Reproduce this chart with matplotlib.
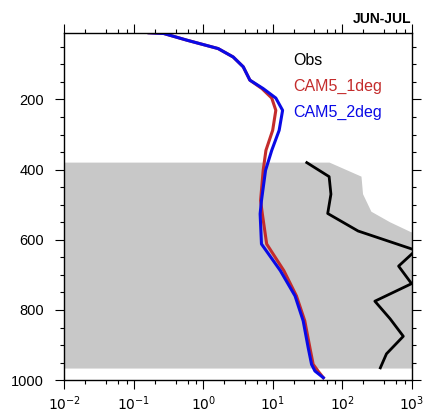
import numpy as np
import matplotlib.pyplot as plt
from matplotlib.ticker import FixedLocator, MultipleLocator, FixedFormatter

plt.rcParams['font.family'] = ['Liberation Sans', 'DejaVu Sans']

# model profiles (pressure hPa, values)
p_mod = [10, 12, 31, 55, 79, 107, 145, 169, 196, 231, 288, 345, 402, 488, 526,
         612, 688, 760, 831, 908, 955, 974, 993]
cam5_1deg = [0.166, 0.27, 0.58, 1.64, 2.7, 3.77, 4.7, 7.0, 9.7, 11.1, 10.0, 8.0,
             7.3, 6.7, 7.1, 8.2, 14.5, 22, 29, 34.4, 38.3, 45, 53.6]
cam5_2deg = [0.166, 0.27, 0.58, 1.64, 2.7, 3.77, 4.7, 7.3, 11.1, 13.9, 12.4, 9.7,
             7.9, 6.9, 6.6, 6.9, 12.9, 21, 27.5, 32.5, 36.3, 40.6, 53.6]

# observations
p_obs = [380, 420, 470, 525, 575, 630, 675, 725, 775, 825, 875, 925, 965]
obs = [31, 65, 69, 62, 170, 1150, 650, 1000, 296, 490, 760, 435, 355]

# observed spread (shaded)
p_sh = [380, 420, 470, 520, 550, 578, 600, 967]
sh_lo = [1e-3, 1e-3, 1e-3, 1e-3, 1e-3, 1e-3, 1e-3, 1e-3]
sh_hi = [66, 190, 200, 264, 490, 975, 3000, 3000]

red = '#c42c2c'
blue = '#0a0ae6'

fig = plt.figure(figsize=(4.23, 4.15), dpi=100)
ax = fig.add_axes([0.152, 0.084, 0.821, 0.837])

ax.fill_betweenx(p_sh, sh_lo, sh_hi, color='#c8c8c8', lw=0)
ax.plot(obs, p_obs, color='black', lw=2.0)
ax.plot(cam5_1deg, p_mod, color=red, lw=2.2)
ax.plot(cam5_2deg, p_mod, color=blue, lw=2.2)

ax.set_xscale('log')
ax.set_xlim(1e-2, 1e3)
ax.set_ylim(1000, 10)

ax.yaxis.set_major_locator(FixedLocator([200, 400, 600, 800, 1000]))
ax.yaxis.set_minor_locator(MultipleLocator(50))
dec = [1e-2, 1e-1, 1e0, 1e1, 1e2, 1e3]
ax.xaxis.set_major_locator(FixedLocator(dec))
ax.xaxis.set_major_formatter(FixedFormatter([r'$10^{%d}$' % e for e in range(-2, 4)]))
minors = [d * m for d in dec[:-1] for m in (2, 4, 6, 8)]
ax.xaxis.set_minor_locator(FixedLocator(minors))

ax.tick_params(which='both', direction='out', top=True, right=True,
               labeltop=False, labelright=False, width=0.8, labelsize=10.5)
ax.tick_params(which='major', length=6.5)
ax.tick_params(which='minor', length=3)
ax.tick_params(axis='y', which='major', pad=8)
ax.tick_params(axis='x', which='major', pad=3.5, labelsize=10)
for s in ax.spines.values():
    s.set_linewidth(1.0)

ax.text(0.658, 0.921, 'Obs', color='black', fontsize=11.5, transform=ax.transAxes, va='center')
ax.text(0.658, 0.847, 'CAM5_1deg', color=red, fontsize=11.5, transform=ax.transAxes, va='center')
ax.text(0.658, 0.772, 'CAM5_2deg', color=blue, fontsize=11.5, transform=ax.transAxes, va='center')

ax.set_title('JUN-JUL', loc='right', fontsize=10, fontweight='bold', pad=7)

fig.savefig('out.png', dpi=100)
